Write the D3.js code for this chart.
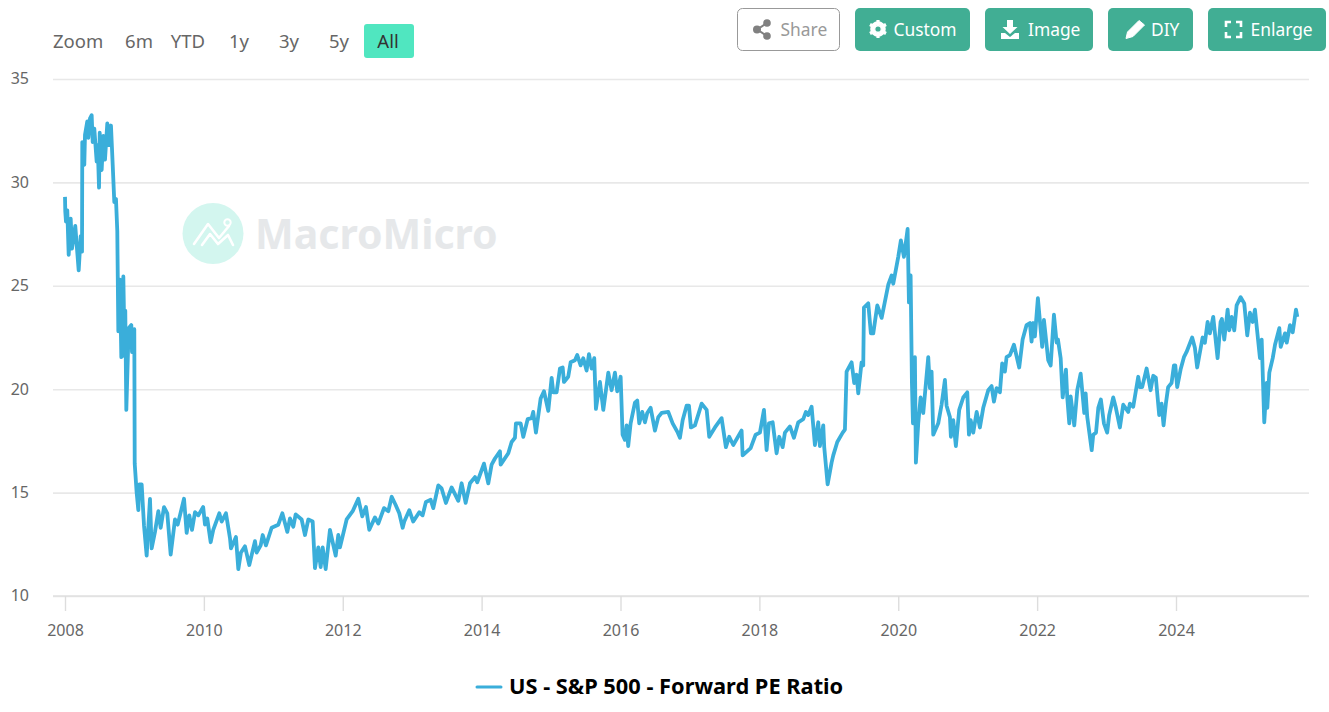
<!DOCTYPE html>
<html>
<head>
<meta charset="utf-8">
<script src="https://cdn.jsdelivr.net/npm/d3@7"></script>
<style>
  html, body { margin: 0; padding: 0; background: #fff; overflow: hidden; }
  text { font-family: "Noto Sans", "Open Sans", sans-serif; }
</style>
</head>
<body>
<div class="canvas"></div>
<script>
// data (decimal year / forward PE)
const dates = [
  2008.000,2008.004,2008.014,2008.033,2008.053,2008.082,2008.101,2008.148,2008.168,2008.197,2008.226,2008.245,2008.249,2008.278,2008.288,2008.321,2008.336,2008.360,2008.384,2008.399,2008.422,2008.456,2008.471,2008.490,2008.500,2008.528,2008.552,2008.576,2008.609,2008.634,2008.662,2008.687,2008.710,2008.734,2008.753,2008.768,2008.792,2008.811,2008.840,2008.860,2008.868,2008.883,2008.917,2008.955,2008.965,2008.998,2009.004,2009.032,2009.056,2009.070,2009.104,2009.138,
  2009.176,2009.224,2009.248,2009.296,2009.344,2009.378,2009.426,2009.473,2009.522,2009.584,2009.623,2009.714,2009.752,2009.790,2009.829,2009.872,2009.920,2009.990,
  2010.016,2010.049,2010.098,2010.135,2010.222,2010.256,2010.318,2010.376,2010.390,2010.462,2010.496,2010.534,2010.592,2010.654,2010.736,2010.760,2010.818,2010.847,2010.894,2010.976,
  2011.072,2011.130,2011.202,2011.240,2011.288,2011.322,2011.408,2011.456,2011.504,2011.567,2011.600,2011.648,2011.682,2011.711,2011.754,2011.816,2011.855,2011.898,2011.936,2011.960,
  2012.056,2012.143,2012.224,2012.281,2012.334,2012.382,2012.464,2012.512,2012.594,2012.656,2012.705,2012.762,2012.814,2012.863,2012.886,2012.958,
  2013.015,2013.102,2013.150,2013.198,2013.266,2013.304,2013.376,2013.424,2013.486,2013.568,2013.664,2013.712,2013.770,2013.832,2013.904,2013.937,
  2014.034,2014.096,2014.144,2014.192,2014.264,2014.274,2014.384,2014.432,2014.480,2014.494,2014.562,2014.600,2014.663,2014.720,2014.743,2014.782,2014.850,2014.898,2014.960,
  2015.008,2015.032,2015.080,2015.128,2015.167,2015.186,2015.247,2015.282,2015.344,2015.377,2015.426,2015.464,2015.512,2015.546,2015.584,2015.622,2015.646,2015.704,2015.752,2015.824,2015.872,2015.920,2015.953,
  2016.002,2016.030,2016.064,2016.088,2016.111,2016.146,2016.208,2016.241,2016.270,2016.313,2016.352,2016.385,2016.434,2016.496,2016.544,2016.592,2016.688,2016.751,2016.817,2016.856,2016.895,2016.952,2016.986,
  2017.014,2017.072,2017.169,2017.241,2017.278,2017.360,2017.456,2017.518,2017.566,2017.624,2017.744,2017.759,2017.874,2017.946,
  2018.008,2018.066,2018.104,2018.138,2018.191,2018.248,2018.286,2018.335,2018.368,2018.440,2018.498,2018.560,2018.632,2018.670,2018.704,2018.752,2018.800,2018.848,2018.872,2018.920,2018.934,2018.983,
  2019.040,2019.064,2019.122,2019.200,2019.232,2019.256,2019.328,2019.366,2019.400,2019.424,2019.472,2019.496,2019.506,2019.568,2019.606,2019.640,2019.698,2019.761,2019.856,2019.905,2019.928,
  2020.000,2020.038,2020.082,2020.135,2020.154,2020.178,2020.197,2020.212,2020.240,2020.254,2020.288,2020.322,2020.360,2020.432,2020.456,2020.480,2020.504,2020.576,2020.624,2020.672,2020.696,2020.744,2020.758,2020.792,2020.830,2020.878,2020.936,2020.994,
  2021.018,2021.043,2021.080,2021.129,2021.176,2021.224,2021.296,2021.344,2021.378,2021.416,2021.464,2021.497,2021.536,2021.560,2021.608,2021.666,2021.742,2021.791,2021.848,2021.896,2021.920,2021.944,2021.968,
  2022.011,2022.073,2022.098,2022.160,2022.195,2022.242,2022.281,2022.300,2022.339,2022.368,2022.415,2022.434,2022.463,2022.483,2022.535,2022.578,2022.627,2022.679,2022.699,2022.722,2022.786,2022.808,2022.848,2022.881,2022.918,2022.962,
  2023.009,2023.038,2023.096,2023.134,2023.192,2023.240,2023.312,2023.336,2023.384,2023.456,2023.480,2023.513,2023.577,2023.634,2023.672,2023.710,2023.758,2023.792,2023.821,2023.854,2023.887,2023.936,2023.970,2023.990,
  2024.017,2024.066,2024.114,2024.152,2024.233,2024.272,2024.305,2024.383,2024.416,2024.455,2024.488,2024.536,2024.599,2024.642,2024.661,2024.695,2024.744,2024.767,2024.801,2024.839,2024.873,2024.931,2024.983,
  2025.026,2025.065,2025.104,2025.137,2025.209,2025.234,2025.271,2025.306,2025.315,2025.344,2025.393,2025.426,2025.488,2025.508,2025.570,2025.595,2025.642,2025.681,2025.728,2025.747
];
const values = [
  29.3,28.6,28.1,28.65,26.5,28.25,26.8,27.9,27,25.75,27.4,26.65,31.95,30.85,32.3,32.95,32.15,33.1,33.25,31.95,32.6,31,31.8,29.75,32.4,30.6,32.25,31.1,32.85,31.8,32.75,30.85,29.05,29.2,27.65,22.8,25.3,21.55,25.45,21.6,23.8,19,22.95,23.1,21.8,22.9,16.4,15,14.15,15.4,15.4,13.4,
  11.95,14.7,12.3,13.1,14.1,13.3,14.3,14,12,13.7,13.45,14.7,13.05,13.9,13.2,14.05,13.9,14.3,
  13.45,13.75,12.6,13.2,14,13.6,14,12.8,12.3,12.85,11.3,12.1,12.4,11.5,12.65,12.1,12.45,12.95,12.45,13.3,
  13.45,14,13.1,13.75,13.35,13.95,13.7,12.95,13.7,13.6,11.35,12.35,11.4,12.35,11.3,13.2,12.6,11.95,12.95,12.35,
  13.7,14.1,14.7,13.85,14.3,13.2,13.8,13.5,14.25,14.1,14.8,14.4,14,13.3,13.6,14.15,
  13.6,14.05,13.9,14.55,14.65,14.25,15.35,15.2,14.5,15.25,14.6,15.45,14.5,15.45,15.75,15.5,
  16.4,15.45,16.35,16.65,17,16.35,16.9,17.45,17.65,18.35,18.35,17.7,18.55,18.6,18.9,17.9,19.55,19.9,18.95,
  20.55,19.85,19.85,21,21.05,20.35,20.6,21.3,21.4,21.65,21.15,21.5,20.9,21.7,21,21.5,19.05,20.35,19,20.8,19.95,20.8,19.9,
  20.6,17.8,17.55,18.25,17.25,18.35,19.35,19.45,18.35,18.9,18.4,18.85,19.1,18,18.65,18.85,18.9,18.35,17.95,17.65,18.5,19.2,19.2,
  18.15,18.25,19.3,19,17.7,18.15,18.6,17.2,17.7,17.3,18,16.8,17.15,17.8,
  17.9,19,17.05,18.35,18.4,16.9,17.7,17.2,17.9,18.2,17.65,18.4,18.55,18.9,18.75,19.15,17.3,18.4,17.25,18.25,17.2,15.4,
  16.45,16.8,17.45,17.9,18.05,20.85,21.3,20.3,20.7,19.8,21.3,21.15,23.95,24.15,22.7,22.7,24.05,23.45,25.05,25.5,25.1,
  26.4,27.2,26.4,27.75,24.2,25.5,20.3,18.35,21.55,16.45,18.35,19.6,18.85,21.55,20.05,20.85,17.8,18.35,19.25,20.45,19.2,18.65,17.7,18.5,17.25,19,19.6,19.85,
  17.8,18.5,17.9,18.9,18.15,19.1,19.95,20.15,19.4,20.05,19.85,21.25,20.85,21.55,21.65,22.15,21.05,22.4,23.1,23.2,22.3,23.2,22.55,
  24.4,22.05,23.35,21.4,21.15,23.6,22.25,22.4,21.5,19.6,20.95,19.6,18.35,19.65,18.25,19.95,20.75,18.85,19.8,18.65,17.05,17.8,17.9,19.1,19.5,18.35,
  17.9,18.75,19.6,19.1,18.15,19.25,18.9,19.3,19.15,20.6,20.1,20.1,21,19.95,20.65,20.55,18.75,19.3,18.25,19.3,20.1,20.3,21.15,21.15,
  20.1,20.95,21.55,21.8,22.5,22,21.05,22.5,22.25,23.25,22.7,23.5,21.5,23.25,23.4,22.4,23.85,22.85,23.5,22.85,24.05,24.45,24.15,
  22.6,23.7,23.25,23.85,21.5,22.4,18.4,20.3,19.1,20.8,21.5,22.15,22.95,22.05,22.7,22.25,23.1,22.75,23.85,23.5
];
const xTicks = [2008, 2010, 2012, 2014, 2016, 2018, 2020, 2022, 2024];
const yTicks = [10, 15, 20, 25, 30, 35];
const seriesName = "US - S&P 500 - Forward PE Ratio";
const zoomLabels = ["6m", "YTD", "1y", "3y", "5y", "All"];
const buttonLabels = ["Share", "Custom", "Image", "DIY", "Enlarge"];

const lineColor = "#3aaeda";
const gridColor = "#e8e8e8";
const green = "#41ae94";

const svg = d3
  .select(".canvas")
  .append("svg")
  .attr("width", 1329)
  .attr("height", 712)
  .style("display", "block");

// scales
const x = d3.scaleLinear().domain([2008, 2024]).range([65, 1176]);
const y = d3.scaleLinear().domain([10, 35]).range([596, 79]);
const plotLeft = 53;
const plotRight = 1309;

// watermark
const mark = svg.append("g");
mark.append("circle").attr("cx", 213).attr("cy", 233.5).attr("r", 30.5).attr("fill", "#d3f6ef");
mark.append("path")
  .attr("d", "M194 244 L208 224 L219 238 L229 226 M202 245 L210 234 L218 244 L228 235 L233 245")
  .attr("fill", "none").attr("stroke", "#fff").attr("stroke-width", 2.6)
  .attr("stroke-linecap", "round").attr("stroke-linejoin", "round");
mark.append("circle").attr("cx", 227.5).attr("cy", 222.5).attr("r", 3.2)
  .attr("fill", "none").attr("stroke", "#fff").attr("stroke-width", 2);
mark.append("text").attr("x", 255).attr("y", 249)
  .attr("fill", "#e6e8ea").attr("font-size", 41).attr("font-weight", 700)
  .text("MacroMicro");

// y axis + grid
const yAxis = svg.append("g")
  .attr("transform", `translate(${plotLeft},0)`)
  .call(d3.axisLeft(y).tickValues(yTicks).tickSize(-(plotRight - plotLeft)).tickPadding(24));
yAxis.select(".domain").remove();
yAxis.selectAll("line").attr("stroke", gridColor).attr("stroke-width", 1.6);
yAxis.selectAll("text").attr("fill", "#666").attr("font-size", 16).attr("dy", "0.3em");

// x axis
const xAxis = svg.append("g")
  .attr("transform", "translate(0,596)")
  .call(d3.axisBottom(x).tickValues(xTicks).tickFormat(d3.format("d")).tickSize(15).tickPadding(14));
xAxis.select(".domain").attr("d", `M${plotLeft},0H${plotRight}`).attr("stroke", "#e0e0e0").attr("stroke-width", 1.6);
xAxis.selectAll("line").attr("stroke", "#ddd").attr("stroke-width", 1.4);
xAxis.selectAll("text").attr("fill", "#666").attr("font-size", 16);

// series
const line = d3.line().x((d) => x(d)).y((d, i) => y(values[i]));
svg.append("path")
  .attr("d", line(dates))
  .attr("fill", "none")
  .attr("stroke", lineColor)
  .attr("stroke-width", 3.8)
  .attr("stroke-linejoin", "round");

// legend
svg.append("line")
  .attr("x1", 477).attr("x2", 501).attr("y1", 687).attr("y2", 687)
  .attr("stroke", lineColor).attr("stroke-width", 3).attr("stroke-linecap", "round");
svg.append("text").attr("x", 509).attr("y", 694)
  .attr("font-size", 21.8).attr("font-weight", 700).attr("fill", "#000")
  .text(seriesName);

// range selector
const rangeX = [139, 188, 239, 289, 339, 388];
svg.append("text").attr("x", 53).attr("y", 48)
  .attr("font-size", 18.5).attr("fill", "#666").text("Zoom");
svg.append("rect").attr("x", 364).attr("y", 24).attr("width", 50).attr("height", 34)
  .attr("rx", 3).attr("fill", "#50e6c0");
svg.selectAll(".range").data(zoomLabels).enter().append("text")
  .attr("class", "range")
  .attr("x", (d, i) => rangeX[i]).attr("y", 48)
  .attr("text-anchor", "middle").attr("font-size", 18.5)
  .attr("fill", (d) => (d === "All" ? "#333" : "#666"))
  .text((d) => d);

// top right buttons
const btnLeft = [737, 855, 985, 1108, 1208];
const btnRight = [840, 970, 1093, 1193, 1326];
const btnTextX = [780.5, 893.5, 1028, 1151, 1250.5];
const buttons = svg.selectAll(".btn").data(buttonLabels).enter().append("g").attr("class", "btn");
buttons.append("rect")
  .attr("x", (d, i) => btnLeft[i] + (i === 0 ? 0.5 : 0))
  .attr("y", (d, i) => (i === 0 ? 8.5 : 8))
  .attr("width", (d, i) => btnRight[i] - btnLeft[i] - (i === 0 ? 1 : 0))
  .attr("height", (d, i) => (i === 0 ? 42 : 43))
  .attr("rx", 5)
  .attr("fill", (d, i) => (i === 0 ? "#fff" : green))
  .attr("stroke", (d, i) => (i === 0 ? "#999" : "none"));
buttons.append("text")
  .attr("x", (d, i) => btnTextX[i]).attr("y", 35.5)
  .attr("font-size", 17.4)
  .attr("fill", (d, i) => (i === 0 ? "#999" : "#fff"))
  .text((d) => d);

// button icons
const icons = svg.append("g");
// share
icons.append("path").attr("d", "M757 29.5L767 23M757 29.5L767 36").attr("stroke", "#808080").attr("stroke-width", 2).attr("fill", "none");
[[757, 29.5, 4], [767, 23, 3.8], [767, 36, 3.8]].forEach((c) => {
  icons.append("circle").attr("cx", c[0]).attr("cy", c[1]).attr("r", c[2]).attr("fill", "#808080");
});
// gear
icons.append("circle").attr("cx", 878).attr("cy", 29).attr("r", 5.6).attr("fill", "none").attr("stroke", "#fff").attr("stroke-width", 4.4);
icons.append("path").attr("d", "M878 20V38M870 24.5L886 33.5M870 33.5L886 24.5")
  .attr("stroke", "#fff").attr("stroke-width", 3.2);
icons.append("circle").attr("cx", 878).attr("cy", 29).attr("r", 2.6).attr("fill", green);
// download
icons.append("path").attr("d", "M1007 20H1013V27H1017.5L1010 34L1002.5 27H1007Z").attr("fill", "#fff");
icons.append("path").attr("d", "M1001 33H1005L1010 37L1015 33H1019V39H1001Z").attr("fill", "#fff");
// pencil
icons.append("path").attr("d", "M1126 38.5L1127.5 32L1139 20.5L1144.5 25L1133 36.5Z").attr("fill", "#fff")
  .attr("stroke", "#fff").attr("stroke-width", 1);
// expand corners
icons.append("path")
  .attr("d", "M1226 27V22H1231M1236 22H1241V27M1241 32V37H1236M1231 37H1226V32")
  .attr("fill", "none").attr("stroke", "#fff").attr("stroke-width", 2.6);
</script>
</body>
</html>
